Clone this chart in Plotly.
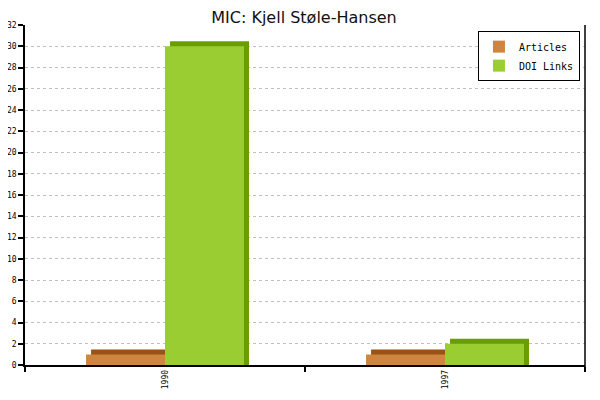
import plotly.graph_objects as go

# values
years = ["1990", "1997"]
articles = [1, 1]
doi_links = [30, 2]

x_pos = list(range(len(years)))

face_art = "#cd853f"
dark_art = "#9a5214"
face_doi = "#9acd32"
dark_doi = "#6a9e00"

bar_w = 0.282
depth_x = 0.018   # 3d depth, in category units
depth_y = 0.47    # 3d depth, in value units

fig = go.Figure()

# articles: dark back part, then front face
fig.add_trace(go.Bar(x=x_pos, y=[v + depth_y for v in articles], width=bar_w,
                     offset=-bar_w + depth_x, marker=dict(color=dark_art, line=dict(width=0)),
                     showlegend=False, hoverinfo="skip"))
fig.add_trace(go.Bar(x=x_pos, y=articles, width=bar_w, offset=-bar_w, name="Articles",
                     marker=dict(color=face_art, line=dict(width=0))))
# doi links
fig.add_trace(go.Bar(x=x_pos, y=[v + depth_y for v in doi_links], width=bar_w,
                     offset=depth_x, marker=dict(color=dark_doi, line=dict(width=0)),
                     showlegend=False, hoverinfo="skip"))
fig.add_trace(go.Bar(x=x_pos, y=doi_links, width=bar_w, offset=0, name="DOI Links",
                     marker=dict(color=face_doi, line=dict(width=0))))

# page body has an 8px margin, so the figure is a bit smaller than the window
fig.update_layout(
    width=592, height=392,
    barmode="overlay",
    paper_bgcolor="white", plot_bgcolor="white",
    margin=dict(l=17, r=15, t=17, b=35),
    title=dict(text="MIC: Kjell Støle-Hansen", x=0.5, xanchor="center", y=1.0, yanchor="top",
               pad=dict(t=4), font=dict(family="DejaVu Sans", size=16, color="#111")),
    font=dict(family="DejaVu Sans Mono", size=8, color="black"),
    xaxis=dict(range=[-0.5, 1.5], tickmode="array", tickvals=x_pos, ticktext=years,
               tickangle=-90, ticks="", showgrid=False, zeroline=False, automargin=False,
               showline=True, linecolor="black", linewidth=1.5,
               minor=dict(ticks="outside", tickmode="linear", tick0=-0.5, dtick=1,
                          ticklen=5, tickcolor="black", tickwidth=1.5, showgrid=False)),
    yaxis=dict(range=[0, 32], dtick=2, ticks="outside", ticklen=5, tickcolor="black",
               tickwidth=1.5, showline=True, linecolor="black", linewidth=1.5,
               zeroline=False, automargin=False,
               gridcolor="#c0c0c0", griddash="3px,3px", gridwidth=1),
    legend=dict(x=0.991, y=0.982, xanchor="right", yanchor="top",
                bgcolor="white", bordercolor="black", borderwidth=1,
                itemwidth=30, tracegroupgap=0,
                font=dict(family="DejaVu Sans Mono", size=10, color="black"),
                traceorder="normal"),
    shapes=[dict(type="line", xref="paper", yref="paper", x0=1, x1=1, y0=-0.015, y1=1,
                 line=dict(color="black", width=1.5))],
)

fig.write_html("out.html")
